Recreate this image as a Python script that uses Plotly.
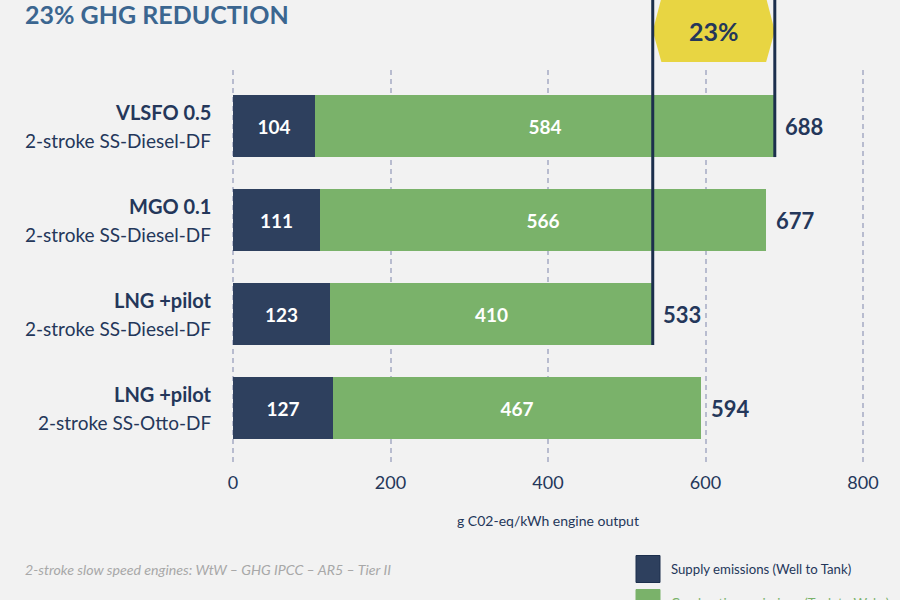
import plotly.graph_objects as go

# ---- data ----
fuel_names = ["VLSFO 0.5", "MGO 0.1", "LNG +pilot", "LNG +pilot"]
engine_types = ["2-stroke SS-Diesel-DF", "2-stroke SS-Diesel-DF",
                "2-stroke SS-Diesel-DF", "2-stroke SS-Otto-DF"]
supply = [104, 111, 123, 127]          # Well to Tank
combustion = [584, 566, 410, 467]      # Tank to Wake
totals = [688, 677, 533, 594]
x_ticks = [0, 200, 400, 600, 800]
series_names = ["Supply emissions (Well to Tank)", "Combustion emissions (Tank to Wake)"]
reduction_label = "23%"
title_text = "23% GHG REDUCTION"
axis_title = "g C02-eq/kWh engine output"
footnote = "2-stroke slow speed engines: WtW – GHG IPCC – AR5 – Tier II"

# ---- style ----
NAVY = "#2e405e"
GREEN = "#7ab26a"
TEXT = "#24375a"
TITLE = "#3b6690"
GRID = "#b8bccf"
YELLOW = "#e8d542"
BG = "#f2f2f2"
FONT = "Lato"

W, H = 900, 600
ML, MR, MT, MB = 230, 34, 70, 138
PH = H - MT - MB
PW = W - ML - MR
rows = list(range(len(fuel_names)))
y_lo, y_hi = -0.596, 3.574   # axis range (reversed)
unit = 630 / 800             # px per data unit
x_lo = -3 / unit
x_hi = x_lo + PW / unit
bar_w = 0.66

def paper_y(v):
    return (y_hi - v) / (y_hi - y_lo)

def px_to_paper_y(py):
    return (H - MB - py) / PH

def px_to_paper_x(px):
    return (px - ML) / PW

fig = go.Figure()
fig.add_trace(go.Bar(
    y=rows, x=supply, orientation="h", width=bar_w,
    marker=dict(color=NAVY, line=dict(width=0)),
    text=[str(v) for v in supply], textposition="inside", insidetextanchor="middle",
    textfont=dict(color="white", size=19, family=FONT, weight="bold"),
    name=series_names[0], showlegend=False,
))
fig.add_trace(go.Bar(
    y=rows, x=combustion, orientation="h", width=bar_w,
    marker=dict(color=GREEN, line=dict(width=0)),
    text=[str(v) for v in combustion], textposition="inside", insidetextanchor="middle",
    textfont=dict(color="white", size=19, family=FONT, weight="bold"),
    name=series_names[1], showlegend=False,
))

annotations = []
# total labels
for r, t in zip(rows, totals):
    annotations.append(dict(x=t, y=r, xref="x", yref="y", text=f"<b>{t}</b>",
                            showarrow=False, xanchor="left", yanchor="middle", xshift=8,
                            font=dict(color=TEXT, size=22, family=FONT)))
# category labels
for r, f, e in zip(rows, fuel_names, engine_types):
    annotations.append(dict(x=0, y=r, xref="x", yref="y", text=f"<b>{f}</b>",
                            showarrow=False, xanchor="right", yanchor="middle",
                            xshift=-20, yshift=14,
                            font=dict(color=TEXT, size=20, family=FONT)))
    annotations.append(dict(x=0, y=r, xref="x", yref="y", text=e,
                            showarrow=False, xanchor="right", yanchor="middle",
                            xshift=-20, yshift=-14,
                            font=dict(color=TEXT, size=19, family=FONT)))

# reduction bracket: hexagon + vertical lines
lo, hi = min(totals), max(totals)
lo_row, hi_row = totals.index(lo), totals.index(hi)
top_p = px_to_paper_y(-2)
hex_bot = px_to_paper_y(62)
hex_mid = px_to_paper_y(31)
inset = 11
hex_path = (f"M {lo},{hex_mid} L {lo+inset},{top_p} L {hi-inset},{top_p} "
            f"L {hi},{hex_mid} L {hi-inset},{hex_bot} L {lo+inset},{hex_bot} Z")
shapes = [dict(type="path", path=hex_path, xref="x", yref="paper",
               fillcolor=YELLOW, line=dict(width=0), layer="above")]
for v, r in [(lo, lo_row), (hi, hi_row)]:
    shapes.append(dict(type="line", xref="x", yref="paper", x0=v, x1=v,
                       y0=top_p, y1=paper_y(r + bar_w / 2),
                       line=dict(color="#1c2f4d", width=3), layer="above"))
annotations.append(dict(x=(lo + hi) / 2, y=hex_mid, xref="x", yref="paper",
                        text=f"<b>{reduction_label}</b>", showarrow=False,
                        xanchor="center", yanchor="middle",
                        font=dict(color=TEXT, size=25, family=FONT)))

# title, axis title, footnote
annotations.append(dict(x=px_to_paper_x(23), y=px_to_paper_y(14), xref="paper", yref="paper",
                        text=f"<b>{title_text}</b>", showarrow=False, xanchor="left",
                        yanchor="middle", font=dict(color=TITLE, size=25, family=FONT)))
annotations.append(dict(x=400, y=px_to_paper_y(520), xref="x", yref="paper",
                        text=axis_title, showarrow=False, xanchor="center", yanchor="middle",
                        font=dict(color=TEXT, size=14, family=FONT)))
annotations.append(dict(x=px_to_paper_x(23), y=px_to_paper_y(569), xref="paper", yref="paper",
                        text=f"<i>{footnote}</i>", showarrow=False, xanchor="left",
                        yanchor="middle", font=dict(color="#a8a8a8", size=14.2, family=FONT)))

# legend (custom)
leg_colors = [NAVY, GREEN]
leg_text_colors = [TEXT, GREEN]
for i, (nm, c, tc) in enumerate(zip(series_names, leg_colors, leg_text_colors)):
    cy = 569 + i * 34
    shapes.append(dict(type="rect", xref="paper", yref="paper",
                       x0=px_to_paper_x(636), x1=px_to_paper_x(660),
                       y0=px_to_paper_y(cy - 13.5), y1=px_to_paper_y(cy + 13.5),
                       fillcolor=c, line=dict(color="#1c2f4d" if i == 0 else c, width=1)))
    annotations.append(dict(x=px_to_paper_x(669), y=px_to_paper_y(cy), xref="paper", yref="paper",
                            text=nm, showarrow=False, xanchor="left", yanchor="middle",
                            font=dict(color=tc, size=13.2, family=FONT)))

fig.update_layout(
    width=W, height=H, barmode="stack",
    margin=dict(l=ML, r=MR, t=MT, b=MB),
    paper_bgcolor=BG, plot_bgcolor=BG,
    font=dict(family=FONT, color=TEXT),
    xaxis=dict(range=[x_lo, x_hi], tickvals=x_ticks, ticktext=[str(v) for v in x_ticks],
               showgrid=True, gridcolor=GRID, griddash="5px,4px", gridwidth=1.5,
               zeroline=False, showline=False, ticks="", ticklabelstandoff=8,
               tickfont=dict(size=18, color=TEXT, family=FONT), fixedrange=True),
    yaxis=dict(range=[y_hi, y_lo], showgrid=False, zeroline=False, showticklabels=False,
               ticks="", showline=False),
    shapes=shapes, annotations=annotations, bargap=0,
)

fig.write_html("out.html")
